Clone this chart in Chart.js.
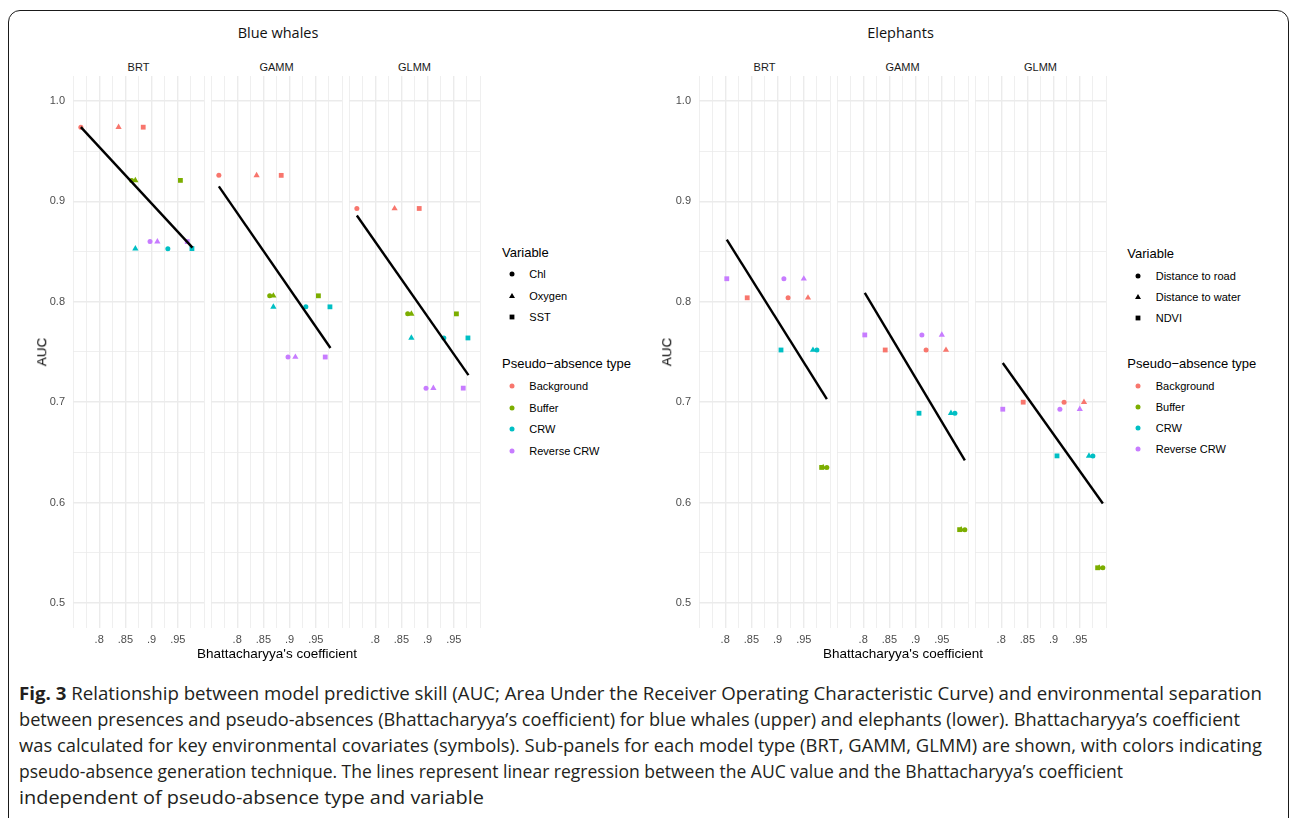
<!DOCTYPE html>
<html><head><meta charset="utf-8">
<script src="https://cdn.jsdelivr.net/npm/chart.js@4.4.0/dist/chart.umd.min.js"></script>
<style>
html,body{margin:0;padding:0;background:#fff;width:1290px;height:818px;overflow:hidden;}
#frame{position:absolute;left:8px;top:10px;width:1281px;height:900px;border:1.5px solid #1a1a1a;border-radius:12px;box-sizing:border-box;}
.t{position:absolute;white-space:nowrap;line-height:1;}
.box{position:absolute;}
.cap{position:absolute;left:19px;white-space:nowrap;font-family:"Open Sans",sans-serif;font-size:18px;line-height:26px;color:#231f20;transform-origin:0 50%;}
</style></head><body>
<div id="frame"></div>
<div id="root"></div>
<script>
// ---------------- DATA ----------------
const models = ['BRT', 'GAMM', 'GLMM'];
const paTypes = ['Background', 'Buffer', 'CRW', 'Reverse CRW'];
const paColors = ['#F8766D', '#7CAE00', '#00BFC4', '#C77CFF'];
const whaleVariables = ['Chl', 'Oxygen', 'SST'];
const elephantVariables = ['Distance to road', 'Distance to water', 'NDVI'];

// Bhattacharyya's coefficient per variable, for each pseudo-absence type (blue whales: Chl, Oxygen, SST)
const whaleBcBackground = [0.765, 0.837, 0.884];
const whaleBcBuffer = [0.862, 0.869, 0.955];
const whaleBcCRW = [0.931, 0.869, 0.977];
const whaleBcReverseCRW = [0.897, 0.911, 0.968];
// AUC per pseudo-absence type (Background, Buffer, CRW, Reverse CRW)
const whaleAucBRT = [0.974, 0.921, 0.853, 0.860];
const whaleAucGAMM = [0.926, 0.806, 0.795, 0.745];
const whaleAucGLMM = [0.893, 0.788, 0.764, 0.714];
// regression lines (x range and fitted AUC at its ends)
const whaleFitX = [0.765, 0.978];
const whaleFitBRT = [0.974, 0.854];
const whaleFitGAMM = [0.915, 0.754];
const whaleFitGLMM = [0.886, 0.727];

// Elephants: Distance to road, Distance to water, NDVI
const elephantBcBackground = [0.920, 0.958, 0.842];
const elephantBcBuffer = [0.994, 0.987, 0.984];
const elephantBcCRW = [0.975, 0.9675, 0.9065];
const elephantBcReverseCRW = [0.912, 0.950, 0.803];
const elephantAucBRT = [0.804, 0.635, 0.752, 0.823];
const elephantAucGAMM = [0.752, 0.573, 0.689, 0.767];
const elephantAucGLMM = [0.700, 0.535, 0.6465, 0.693];
const elephantFitX = [0.803, 0.994];
const elephantFitBRT = [0.862, 0.703];
const elephantFitGAMM = [0.809, 0.642];
const elephantFitGLMM = [0.739, 0.599];

// axes
const xTickValues = [0.8, 0.85, 0.9, 0.95];
const xTickLabels = ['.8', '.85', '.9', '.95'];
const yTickValues = [0.5, 0.6, 0.7, 0.8, 0.9, 1.0];
const yTickLabels = ['0.5', '0.6', '0.7', '0.8', '0.9', '1.0'];
const xLimits = [0.75, 1.0];
const yLimits = [0.475, 1.025];

// ---------------- LAYOUT / STYLE ----------------
const root = document.getElementById('root');
const PANEL_W = 131, PANEL_TOP = 76, PANEL_H = 552, X_AXIS_H = 25, Y_AXIS_W = 30;
const SANS = '"Liberation Sans", Arial, sans-serif';
const shapes = ['circle', 'triangle', 'rect'];
const shapeRadius = [2.5, 3.6, 3.4];

function text(str, x, y, o) {
  const s = document.createElement('div');
  s.className = 't';
  s.textContent = str;
  s.style.left = x + 'px'; s.style.top = y + 'px';
  s.style.fontFamily = o.font || SANS;
  s.style.fontSize = o.size + 'px';
  s.style.color = o.color || '#000';
  let tr = o.align === 'center' ? 'translate(-50%,-50%)' : 'translate(0,-50%)';
  if (o.rotate) tr += ' rotate(-90deg)';
  s.style.transform = tr;
  root.appendChild(s);
  return s;
}

function gridValues(lo, hi, step) {
  const out = [];
  for (let v = lo; v <= hi + 1e-9; v += step) out.push(Math.round(v * 1000) / 1000);
  return out;
}
const xGrid = gridValues(xLimits[0], xLimits[1], 0.025);
const yGrid = gridValues(0.5, 1.0, 0.05);
const isMajor = (vals, v) => vals.some(m => Math.abs(m - v) < 1e-6);

function buildDatasets(bcs, aucs, fitX, fitY) {
  const ds = [{
    data: fitX.map((x, i) => ({ x, y: fitY[i] })),
    showLine: true, borderColor: '#000', borderWidth: 2.4, pointRadius: 0,
    borderCapStyle: 'butt', fill: false
  }];
  paTypes.forEach((p, k) => {
    ds.push({
      data: bcs[k].map(x => ({ x, y: aucs[k] })),
      pointStyle: shapes, pointRadius: shapeRadius,
      backgroundColor: paColors[k], borderWidth: 0, pointBorderWidth: 0
    });
  });
  return ds;
}

function panel(left, showY, datasets) {
  const axisW = showY ? Y_AXIS_W : 0;
  const div = document.createElement('div');
  div.className = 'box';
  div.style.left = (left - axisW) + 'px';
  div.style.top = PANEL_TOP + 'px';
  div.style.width = (PANEL_W + axisW) + 'px';
  div.style.height = (PANEL_H + X_AXIS_H) + 'px';
  const c = document.createElement('canvas');
  div.appendChild(c);
  root.appendChild(div);
  const chart = new Chart(c, {
    type: 'scatter',
    data: { datasets },
    options: {
      responsive: true, maintainAspectRatio: false, animation: false, events: [],
      layout: { padding: 0 },
      plugins: { legend: { display: false }, tooltip: { enabled: false } },
      scales: {
        x: {
          type: 'linear', min: xLimits[0], max: xLimits[1],
          afterBuildTicks: s => { s.ticks = xGrid.map(v => ({ value: v })); },
          afterFit: s => { s.height = X_AXIS_H; s.paddingLeft = 0; s.paddingRight = 0; s.paddingTop = 0; s.paddingBottom = 0; },
          border: { display: false },
          grid: {
            drawTicks: false, color: '#ebebeb',
            lineWidth: ctx => (ctx.tick && isMajor(xTickValues, ctx.tick.value)) ? 1.4 : 0.8
          },
          ticks: {
            autoSkip: false, maxRotation: 0, padding: 5, color: '#4d4d4d',
            font: { family: SANS, size: 11 },
            callback: v => { const i = xTickValues.findIndex(m => Math.abs(m - v) < 1e-6); return i >= 0 ? xTickLabels[i] : ''; }
          }
        },
        y: {
          type: 'linear', min: yLimits[0], max: yLimits[1],
          afterBuildTicks: s => { s.ticks = yGrid.map(v => ({ value: v })); },
          afterFit: s => { s.width = axisW; s.paddingTop = 0; s.paddingBottom = 0; s.paddingLeft = 0; s.paddingRight = 0; },
          border: { display: false },
          grid: {
            drawTicks: false, color: '#ebebeb',
            lineWidth: ctx => (ctx.tick && isMajor(yTickValues, ctx.tick.value)) ? 1.4 : 0.8
          },
          ticks: {
            display: showY, autoSkip: false, padding: 8, color: '#4d4d4d',
            font: { family: SANS, size: 11 },
            callback: v => { const i = yTickValues.findIndex(m => Math.abs(m - v) < 1e-6); return i >= 0 ? yTickLabels[i] : ''; }
          }
        }
      }
    }
  });
  // make the plotting area land exactly on the panel rectangle
  let ca = chart.chartArea;
  const dw = PANEL_W - (ca.right - ca.left);
  const dh = PANEL_H - (ca.bottom - ca.top);
  if (Math.abs(dw) > 0.01 || Math.abs(dh) > 0.01) {
    div.style.width = (parseFloat(div.style.width) + dw) + 'px';
    div.style.height = (parseFloat(div.style.height) + dh) + 'px';
    chart.resize();
    ca = chart.chartArea;
  }
  div.style.left = (left - ca.left) + 'px';
  div.style.top = (PANEL_TOP - ca.top) + 'px';
}

const groups = [
  {
    title: 'Blue whales', titleX: 278, lefts: [73, 211, 349], aucX: 42, xTitleX: 277,
    bcs: [whaleBcBackground, whaleBcBuffer, whaleBcCRW, whaleBcReverseCRW],
    aucs: [whaleAucBRT, whaleAucGAMM, whaleAucGLMM],
    fitX: whaleFitX, fits: [whaleFitBRT, whaleFitGAMM, whaleFitGLMM],
    vars: whaleVariables, legX: 502, symX: 512.3, legTextX: 529.3,
    varTitleY: 251.7, varY: [274.3, 296, 317.3], paTitleY: 363.3, paY: [386, 408, 429.3, 451.3]
  },
  {
    title: 'Elephants', titleX: 900.5, lefts: [699, 837, 975], aucX: 667.3, xTitleX: 903,
    bcs: [elephantBcBackground, elephantBcBuffer, elephantBcCRW, elephantBcReverseCRW],
    aucs: [elephantAucBRT, elephantAucGAMM, elephantAucGLMM],
    fitX: elephantFitX, fits: [elephantFitBRT, elephantFitGAMM, elephantFitGLMM],
    vars: elephantVariables, legX: 1127.3, symX: 1138, legTextX: 1155.7,
    varTitleY: 252.7, varY: [275.7, 297, 318.3], paTitleY: 362.7, paY: [385.7, 407, 428.3, 449.3]
  }
];

function svgSymbol(shape, color, x, y) {
  const ns = 'http://www.w3.org/2000/svg';
  const svg = document.createElementNS(ns, 'svg');
  svg.setAttribute('width', 10); svg.setAttribute('height', 10);
  svg.style.position = 'absolute';
  svg.style.left = (x - 5) + 'px'; svg.style.top = (y - 5) + 'px';
  let el;
  if (shape === 'circle') {
    el = document.createElementNS(ns, 'circle');
    el.setAttribute('cx', 5); el.setAttribute('cy', 5); el.setAttribute('r', 2.5);
  } else if (shape === 'triangle') {
    el = document.createElementNS(ns, 'polygon');
    el.setAttribute('points', '5,1.9 8,7.1 2,7.1');
  } else {
    el = document.createElementNS(ns, 'rect');
    el.setAttribute('x', 2.6); el.setAttribute('y', 2.6); el.setAttribute('width', 4.8); el.setAttribute('height', 4.8);
  }
  el.setAttribute('fill', color);
  svg.appendChild(el);
  root.appendChild(svg);
}

groups.forEach(g => {
  text(g.title, g.titleX, 33, { font: '"Open Sans", sans-serif', size: 14.5, align: 'center', color: '#111' });
  models.forEach((m, mi) => {
    const left = g.lefts[mi];
    text(m, left + PANEL_W / 2, 66.5, { size: 11, align: 'center', color: '#1a1a1a' });
    const aucsByPa = paTypes.map((p, k) => g.aucs[mi][k]);
    panel(left, mi === 0, buildDatasets(g.bcs, aucsByPa, g.fitX, g.fits[mi]));
  });
  text('AUC', g.aucX, 352, { size: 13.5, align: 'center', rotate: true });
  text("Bhattacharyya's coefficient", g.xTitleX, 653.5, { size: 13.5, align: 'center' });
  // legend
  text('Variable', g.legX, g.varTitleY, { size: 13, color: '#000' });
  g.vars.forEach((v, i) => {
    svgSymbol(shapes[i], '#000', g.symX, g.varY[i]);
    text(v, g.legTextX, g.varY[i], { size: 11, color: '#000' });
  });
  text('Pseudo\u2212absence type', g.legX, g.paTitleY, { size: 13, color: '#000' });
  paTypes.forEach((p, i) => {
    svgSymbol('circle', paColors[i], g.symX, g.paY[i]);
    text(p, g.legTextX, g.paY[i], { size: 11, color: '#000' });
  });
});

// ---------------- CAPTION ----------------
const capLines = [
  ['Fig. 3', ' Relationship between model predictive skill (AUC; Area Under the Receiver Operating Characteristic Curve) and environmental separation'],
  ['', 'between presences and pseudo-absences (Bhattacharyya\u2019s coefficient) for blue whales (upper) and elephants (lower). Bhattacharyya\u2019s coefficient'],
  ['', 'was calculated for key environmental covariates (symbols). Sub-panels for each model type (BRT, GAMM, GLMM) are shown, with colors indicating'],
  ['', 'pseudo-absence generation technique. The lines represent linear regression between the AUC value and the Bhattacharyya\u2019s coefficient'],
  ['', 'independent of pseudo-absence type and variable']
];
const capCenters = [693, 719, 745, 771, 797];
const capWidths = [1243, 1221, 1243, 1104, 465];
const capEls = capLines.map((ln, i) => {
  const d = document.createElement('div');
  d.className = 'cap';
  d.style.top = (capCenters[i] - 13) + 'px';
  if (ln[0]) { const b = document.createElement('b'); b.textContent = ln[0]; d.appendChild(b); }
  d.appendChild(document.createTextNode(ln[1]));
  root.appendChild(d);
  return d;
});
function fitCaption() {
  capEls.forEach((d, i) => {
    d.style.transform = 'none';
    const w = d.getBoundingClientRect().width;
    d.style.transform = 'scaleX(' + (capWidths[i] / w) + ')';
  });
}
fitCaption();
if (document.fonts && document.fonts.ready) document.fonts.ready.then(fitCaption);
</script>
</body></html>
